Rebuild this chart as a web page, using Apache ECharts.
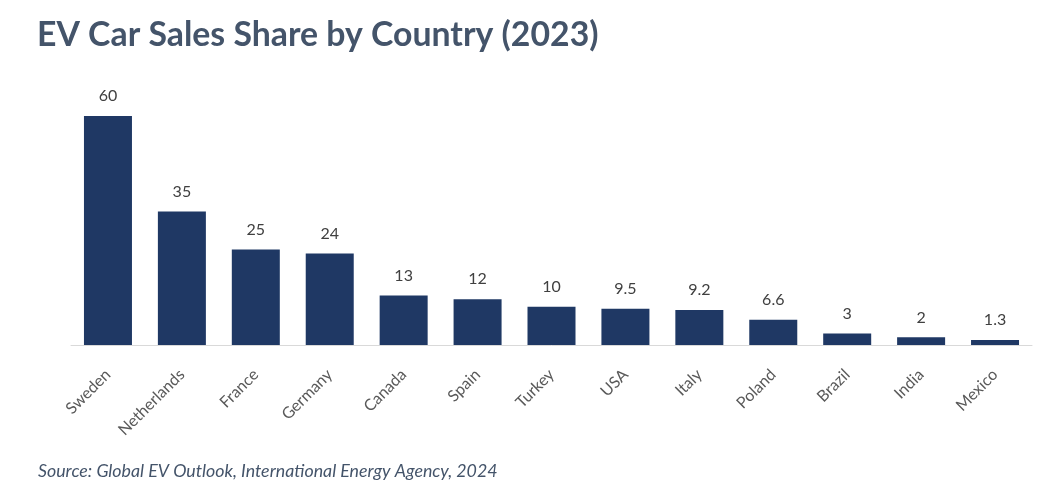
<!DOCTYPE html>
<html><head><meta charset="utf-8">
<script src="https://cdn.jsdelivr.net/npm/echarts@6/dist/echarts.min.js"></script>
<style>html,body{margin:0;padding:0;background:#fff}#c{width:1062px;height:491px}</style>
</head><body><div id="c"></div>
<script>
const categories = ["Sweden","Netherlands","France","Germany","Canada","Spain","Turkey","USA","Italy","Poland","Brazil","India","Mexico"];
const shares = [60,35,25,24,13,12,10,9.5,9.2,6.6,3,2,1.3];
const chart = echarts.init(document.getElementById('c'));
chart.setOption({
  backgroundColor:'#fff',
  animation:false,
  title:[{text:'EV Car Sales Share by Country (2023)',left:32,top:13,textStyle:{fontFamily:'Lato',fontWeight:'bold',fontSize:33.8,color:'#44546a'}},
         {text:'Source: Global EV Outlook, International Energy Agency, 2024',left:33,top:457,textStyle:{fontFamily:'Lato',fontStyle:'italic',fontWeight:'normal',fontSize:17.8,color:'#44546a'}}],
  grid:{left:71,right:30,top:116,bottom:146,containLabel:false},
  xAxis:{type:'category',data:categories,axisLine:{lineStyle:{color:'#d9d9d9',width:1}},axisTick:{show:false},
    axisLabel:{rotate:45,interval:0,fontFamily:'Lato',fontSize:16,color:'#595959',margin:27}},
  yAxis:{type:'value',min:0,max:60,show:false,splitLine:{show:false}},
  series:[{type:'bar',data:shares,barWidth:48,itemStyle:{color:'#1f3864'},
    label:{show:true,position:'top',distance:12,fontFamily:'Lato',fontSize:16,color:'#404040'}}]
});
</script></body></html>
